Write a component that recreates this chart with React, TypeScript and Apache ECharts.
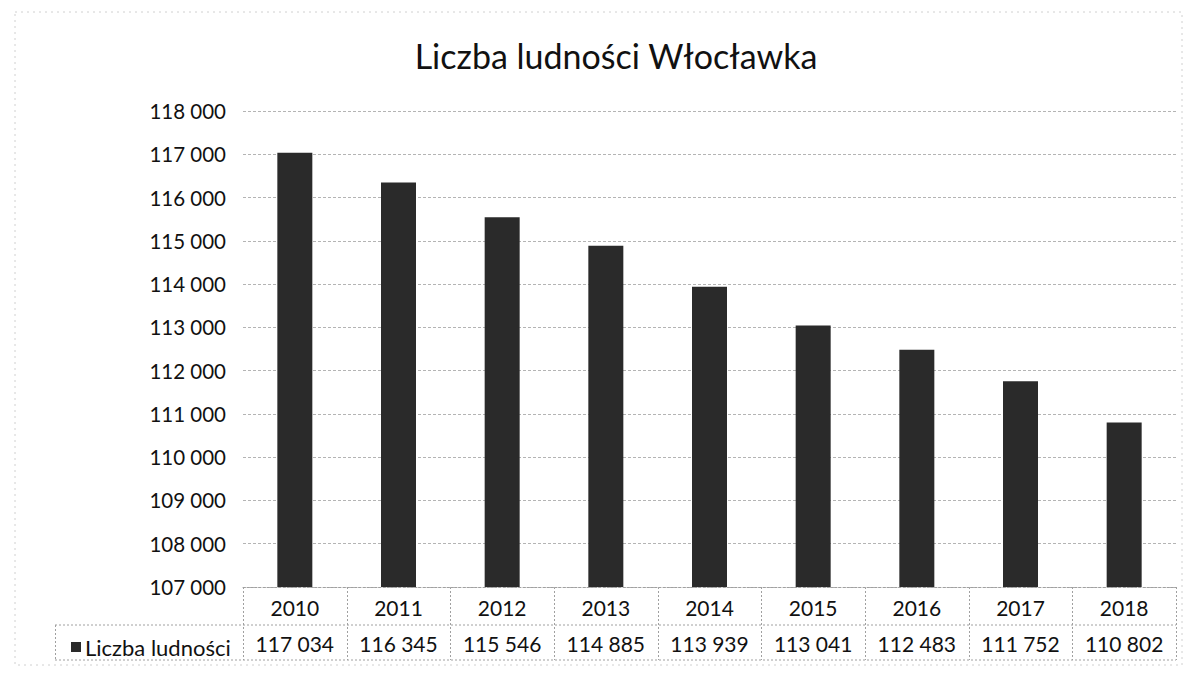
import React, { useEffect, useRef } from "react";
import * as echarts from "echarts";

const title = "Liczba ludności Włocławka";
const seriesName = "Liczba ludności";
const years = ["2010", "2011", "2012", "2013", "2014", "2015", "2016", "2017", "2018"];
const population = [117034, 116345, 115546, 114885, 113939, 113041, 112483, 111752, 110802];
const yMin = 107000;
const yMax = 118000;
const yStep = 1000;

const fmt = (v: number) => {
  const s = String(Math.round(v));
  return s.replace(/\B(?=(\d{3})+(?!\d))/g, " ");
};

const FONT = "Lato, 'Open Sans', sans-serif";
const W = 1189;
const H = 675;
const GL = 243;
const GR = 13;
const GT = 111;
const GB = 88;

export default function App() {
  const ref = useRef<HTMLDivElement>(null);
  useEffect(() => {
    if (!ref.current) return;
    const chart = echarts.init(ref.current, undefined, { renderer: "svg" });
    const plotW = W - GL - GR;
    const cw = plotW / years.length;
    const axisY = H - GB;
    const row1 = axisY + 38;
    const row2 = axisY + 73;
    const lineStyle = { stroke: "#a0a0a0", lineWidth: 1, lineDash: [2, 2] };
    const graphics: any[] = [];
    for (let i = 0; i <= years.length; i++) {
      const x = Math.round(GL + i * cw) + 0.5;
      graphics.push({ type: "line", shape: { x1: x, y1: axisY, x2: x, y2: row2 }, style: lineStyle, silent: true });
    }
    graphics.push({ type: "line", shape: { x1: 55, y1: row1, x2: W - GR, y2: row1 }, style: lineStyle, silent: true });
    graphics.push({ type: "line", shape: { x1: 55, y1: row2, x2: W - GR, y2: row2 }, style: lineStyle, silent: true });
    graphics.push({ type: "line", shape: { x1: 55.5, y1: row1, x2: 55.5, y2: row2 }, style: lineStyle, silent: true });
    graphics.push({ type: "rect", shape: { x: 15, y: 12, width: W - 22, height: H - 22 }, style: { fill: "none", stroke: "#d0d0d0", lineWidth: 1, lineDash: [2, 4] }, silent: true });

    chart.setOption({
      animation: false,
      backgroundColor: "#ffffff",
      title: {
        text: title,
        left: 611,
        top: 33,
        textAlign: "center",
        textStyle: { fontFamily: FONT, fontSize: 34, fontWeight: "normal", color: "#111" },
      },
      legend: {
        left: 66,
        top: row1 + 6,
        icon: "rect",
        itemWidth: 10,
        itemHeight: 10,
        itemGap: 4,
        textStyle: { fontFamily: FONT, fontSize: 22, color: "#111", padding: [0, 0, 0, -1] },
        data: [seriesName],
      },
      grid: { left: GL, right: GR, top: GT, bottom: GB },
      xAxis: [
        {
          type: "category",
          data: years,
          position: "bottom",
          axisLine: { show: true, lineStyle: { color: "#a0a0a0", type: [2, 2] } },
          axisTick: { show: false },
          axisLabel: { fontFamily: FONT, fontSize: 21, color: "#111", margin: 10 },
        },
        {
          type: "category",
          data: years,
          position: "bottom",
          offset: 36,
          axisLine: { show: false },
          axisTick: { show: false },
          axisLabel: {
            fontFamily: FONT,
            fontSize: 21,
            color: "#111",
            margin: 10,
            formatter: (_v: string, idx: number) => fmt(population[idx]),
          },
        },
      ],
      yAxis: {
        type: "value",
        min: yMin,
        max: yMax,
        interval: yStep,
        axisLine: { show: false },
        axisTick: { show: false },
        axisLabel: { fontFamily: FONT, fontSize: 20.5, color: "#111", margin: 17, formatter: (v: number) => fmt(v) },
        splitLine: { lineStyle: { color: "#b4b4b4", type: [3, 2] } },
      },
      series: [
        {
          name: seriesName,
          type: "bar",
          data: population,
          barWidth: 35,
          itemStyle: { color: "#2a2a2a" },
        },
      ],
      graphic: graphics,
    });
    return () => chart.dispose();
  }, []);
  return <div ref={ref} style={{ position: "fixed", left: 0, top: 0, width: W, height: H }} />;
}
